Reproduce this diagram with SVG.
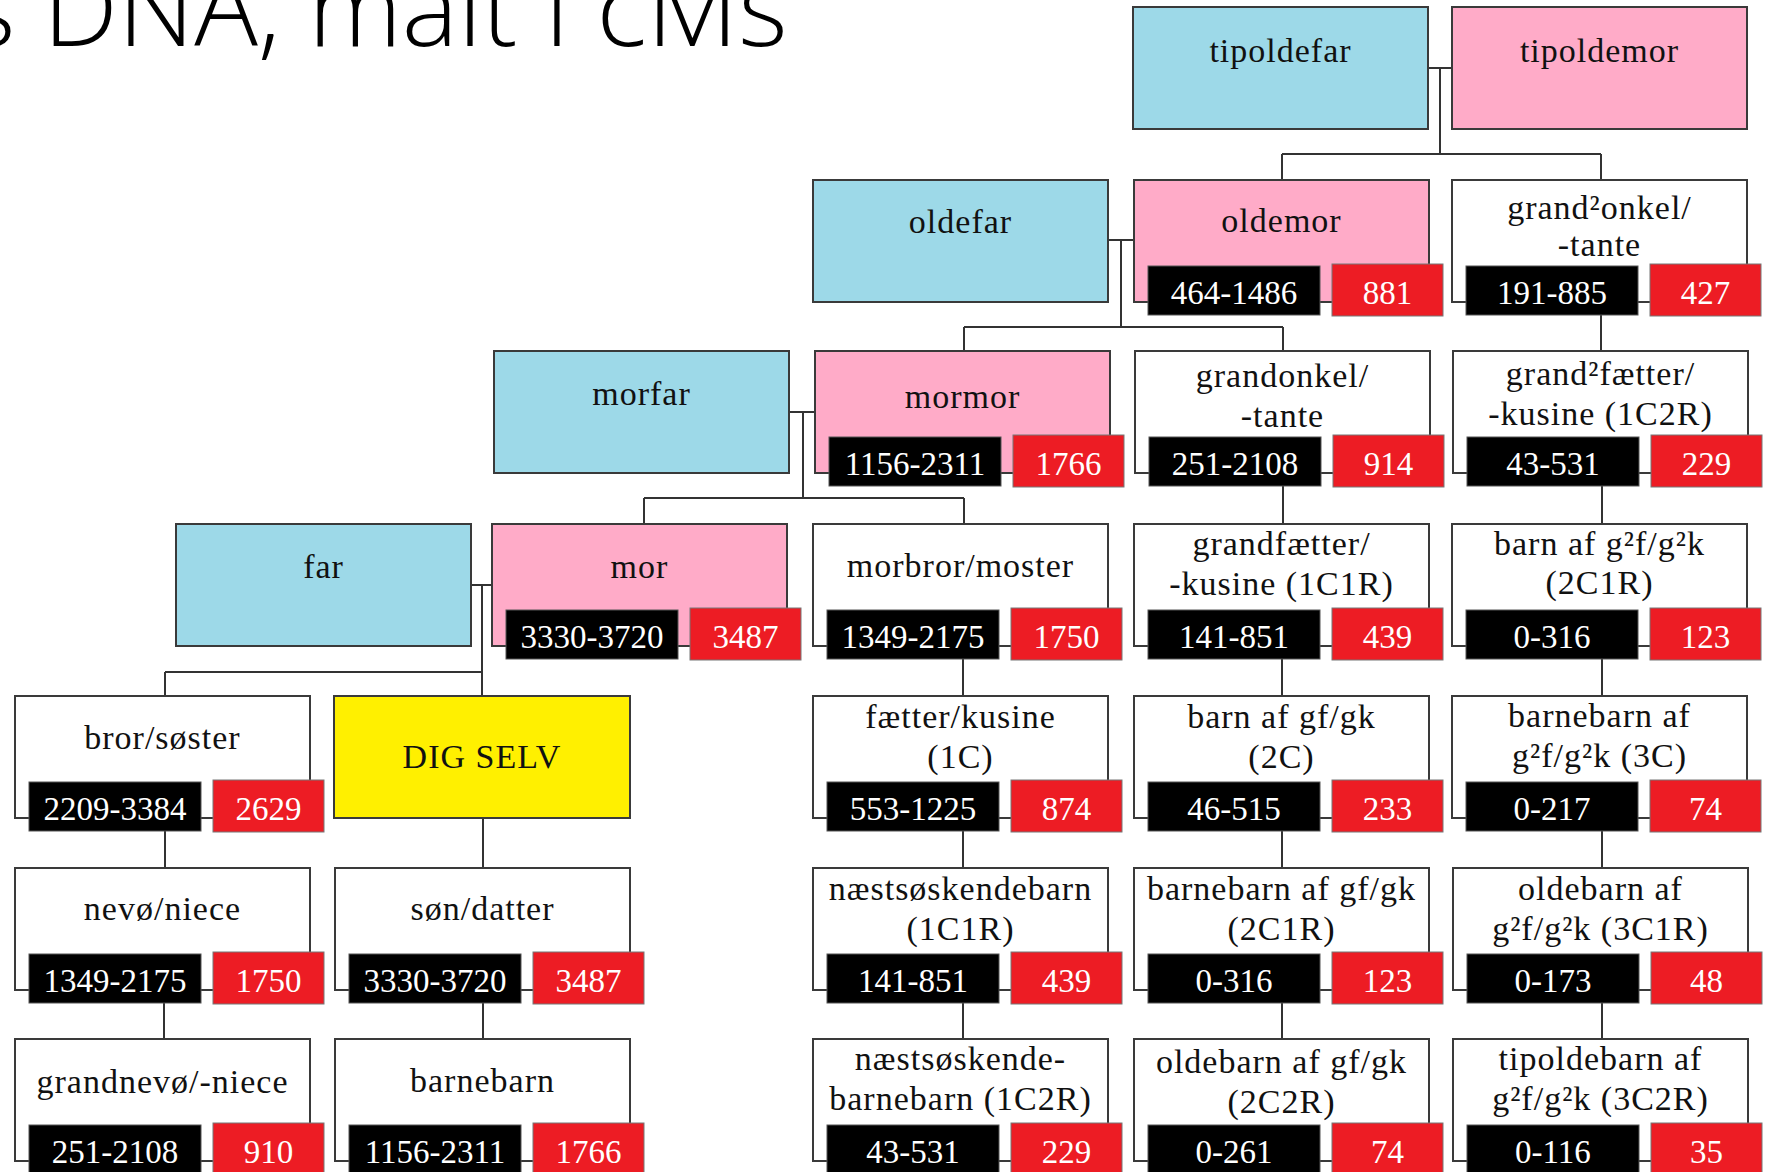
<svg xmlns="http://www.w3.org/2000/svg" width="1765" height="1172" viewBox="0 0 1765 1172">
<style>
.bg{fill:#fff}
.n{stroke:#3a3a3a;stroke-width:2}
.blue{fill:#9dd9e8}.pink{fill:#ffabc8}.white{fill:#fff}.yellow{fill:#fff000}
.blk{fill:#000;stroke:#555;stroke-width:1}
.red{fill:#ed1c24;stroke:#777;stroke-width:1}
.lbl{font-family:"Liberation Serif",serif;font-size:34px;letter-spacing:1px;fill:#111;text-anchor:middle}
.num{font-family:"Liberation Serif",serif;font-size:33px;fill:#fff;text-anchor:middle}
.conn{fill:none;stroke:#333;stroke-width:2}
.title{font-family:"Open Sans","Liberation Sans",sans-serif;font-size:106px;font-weight:300;fill:#000}
</style>
<rect class="bg" x="0" y="0" width="1765" height="1172"/>
<text class="title" x="-34" y="46">s DNA, målt i cMs</text>
<g id="connectors">
<path class="conn" d="M1429 68H1452M1440 68V154M1282 154H1601M1282 154V180M1601 154V180"/>
<path class="conn" d="M1108 240H1134M1121 240V327M964 327H1283M964 327V351M1283 327V351"/>
<path class="conn" d="M1601 313V351"/>
<path class="conn" d="M789 412H815M803 412V498M644 498H964M644 498V524M964 498V524"/>
<path class="conn" d="M1283 486V524M1602 486V524"/>
<path class="conn" d="M471 585H492M482 585V696M165 672H482M165 672V696"/>
<path class="conn" d="M963 659V696M1282 659V696M1602 659V696"/>
<path class="conn" d="M165 831V868M483 818V868M963 831V868M1282 831V868M1602 831V868"/>
<path class="conn" d="M164 1003V1039M483 1003V1039M963 1003V1039M1282 1003V1039M1602 1003V1039"/>
</g>

<g id="tipoldefar"><rect class="n blue" x="1133" y="7" width="295" height="122"/><text class="lbl" x="1280.5" y="62">tipoldefar</text></g>
<g id="tipoldemor"><rect class="n pink" x="1452" y="7" width="295" height="122"/><text class="lbl" x="1599.5" y="62">tipoldemor</text></g>

<g id="oldefar"><rect class="n blue" x="813" y="180" width="295" height="122"/><text class="lbl" x="960.5" y="233">oldefar</text></g>
<g id="oldemor"><rect class="n pink" x="1134" y="180" width="295" height="122"/><text class="lbl" x="1281.5" y="232">oldemor</text>
<rect class="blk" x="1148" y="266" width="172" height="49"/><text class="num" x="1234" y="304">464-1486</text>
<rect class="red" x="1332" y="264" width="111" height="52"/><text class="num" x="1387.5" y="304">881</text></g>
<g id="grand2onkel"><rect class="n white" x="1452" y="180" width="295" height="122"/><text class="lbl" x="1599.5" y="219">grand²onkel/</text><text class="lbl" x="1599.5" y="256">-tante</text>
<rect class="blk" x="1466" y="266" width="172" height="49"/><text class="num" x="1552" y="304">191-885</text>
<rect class="red" x="1650" y="264" width="111" height="52"/><text class="num" x="1705.5" y="304">427</text></g>

<g id="morfar"><rect class="n blue" x="494" y="351" width="295" height="122"/><text class="lbl" x="641.5" y="405">morfar</text></g>
<g id="mormor"><rect class="n pink" x="815" y="351" width="295" height="122"/><text class="lbl" x="962.5" y="408">mormor</text>
<rect class="blk" x="829" y="437" width="172" height="49"/><text class="num" x="915" y="475">1156-2311</text>
<rect class="red" x="1013" y="435" width="111" height="52"/><text class="num" x="1068.5" y="475">1766</text></g>
<g id="grandonkel"><rect class="n white" x="1135" y="351" width="295" height="122"/><text class="lbl" x="1282.5" y="387">grandonkel/</text><text class="lbl" x="1282.5" y="427">-tante</text>
<rect class="blk" x="1149" y="437" width="172" height="49"/><text class="num" x="1235" y="475">251-2108</text>
<rect class="red" x="1333" y="435" width="111" height="52"/><text class="num" x="1388.5" y="475">914</text></g>
<g id="grand2faetter"><rect class="n white" x="1453" y="351" width="295" height="122"/><text class="lbl" x="1600.5" y="385">grand²fætter/</text><text class="lbl" x="1600.5" y="425">-kusine (1C2R)</text>
<rect class="blk" x="1467" y="437" width="172" height="49"/><text class="num" x="1553" y="475">43-531</text>
<rect class="red" x="1651" y="435" width="111" height="52"/><text class="num" x="1706.5" y="475">229</text></g>

<g id="far"><rect class="n blue" x="176" y="524" width="295" height="122"/><text class="lbl" x="323.5" y="578">far</text></g>
<g id="mor"><rect class="n pink" x="492" y="524" width="295" height="122"/><text class="lbl" x="639.5" y="578">mor</text>
<rect class="blk" x="506" y="610" width="172" height="49"/><text class="num" x="592" y="648">3330-3720</text>
<rect class="red" x="690" y="608" width="111" height="52"/><text class="num" x="745.5" y="648">3487</text></g>
<g id="morbror"><rect class="n white" x="813" y="524" width="295" height="122"/><text class="lbl" x="960.5" y="577">morbror/moster</text>
<rect class="blk" x="827" y="610" width="172" height="49"/><text class="num" x="913" y="648">1349-2175</text>
<rect class="red" x="1011" y="608" width="111" height="52"/><text class="num" x="1066.5" y="648">1750</text></g>
<g id="grandfaetter"><rect class="n white" x="1134" y="524" width="295" height="122"/><text class="lbl" x="1281.5" y="555">grandfætter/</text><text class="lbl" x="1281.5" y="595">-kusine (1C1R)</text>
<rect class="blk" x="1148" y="610" width="172" height="49"/><text class="num" x="1234" y="648">141-851</text>
<rect class="red" x="1332" y="608" width="111" height="52"/><text class="num" x="1387.5" y="648">439</text></g>
<g id="barnafg2"><rect class="n white" x="1452" y="524" width="295" height="122"/><text class="lbl" x="1599.5" y="555">barn af g²f/g²k</text><text class="lbl" x="1599.5" y="594">(2C1R)</text>
<rect class="blk" x="1466" y="610" width="172" height="49"/><text class="num" x="1552" y="648">0-316</text>
<rect class="red" x="1650" y="608" width="111" height="52"/><text class="num" x="1705.5" y="648">123</text></g>

<g id="bror"><rect class="n white" x="15" y="696" width="295" height="122"/><text class="lbl" x="162.5" y="749">bror/søster</text>
<rect class="blk" x="29" y="782" width="172" height="49"/><text class="num" x="115" y="820">2209-3384</text>
<rect class="red" x="213" y="780" width="111" height="52"/><text class="num" x="268.5" y="820">2629</text></g>
<g id="digselv"><rect class="n yellow" x="334" y="696" width="296" height="122"/><text class="lbl" x="482" y="768">DIG SELV</text></g>
<g id="faetter"><rect class="n white" x="813" y="696" width="295" height="122"/><text class="lbl" x="960.5" y="728">fætter/kusine</text><text class="lbl" x="960.5" y="768">(1C)</text>
<rect class="blk" x="827" y="782" width="172" height="49"/><text class="num" x="913" y="820">553-1225</text>
<rect class="red" x="1011" y="780" width="111" height="52"/><text class="num" x="1066.5" y="820">874</text></g>
<g id="barnafgf"><rect class="n white" x="1134" y="696" width="295" height="122"/><text class="lbl" x="1281.5" y="728">barn af gf/gk</text><text class="lbl" x="1281.5" y="768">(2C)</text>
<rect class="blk" x="1148" y="782" width="172" height="49"/><text class="num" x="1234" y="820">46-515</text>
<rect class="red" x="1332" y="780" width="111" height="52"/><text class="num" x="1387.5" y="820">233</text></g>
<g id="barnebarnafg2"><rect class="n white" x="1452" y="696" width="295" height="122"/><text class="lbl" x="1599.5" y="727">barnebarn af</text><text class="lbl" x="1599.5" y="767">g²f/g²k (3C)</text>
<rect class="blk" x="1466" y="782" width="172" height="49"/><text class="num" x="1552" y="820">0-217</text>
<rect class="red" x="1650" y="780" width="111" height="52"/><text class="num" x="1705.5" y="820">74</text></g>

<g id="nevo"><rect class="n white" x="15" y="868" width="295" height="122"/><text class="lbl" x="162.5" y="920">nevø/niece</text>
<rect class="blk" x="29" y="954" width="172" height="49"/><text class="num" x="115" y="992">1349-2175</text>
<rect class="red" x="213" y="952" width="111" height="52"/><text class="num" x="268.5" y="992">1750</text></g>
<g id="son"><rect class="n white" x="335" y="868" width="295" height="122"/><text class="lbl" x="482.5" y="920">søn/datter</text>
<rect class="blk" x="349" y="954" width="172" height="49"/><text class="num" x="435" y="992">3330-3720</text>
<rect class="red" x="533" y="952" width="111" height="52"/><text class="num" x="588.5" y="992">3487</text></g>
<g id="naest"><rect class="n white" x="813" y="868" width="295" height="122"/><text class="lbl" x="960.5" y="900">næstsøskendebarn</text><text class="lbl" x="960.5" y="940">(1C1R)</text>
<rect class="blk" x="827" y="954" width="172" height="49"/><text class="num" x="913" y="992">141-851</text>
<rect class="red" x="1011" y="952" width="111" height="52"/><text class="num" x="1066.5" y="992">439</text></g>
<g id="barnebarnafgf"><rect class="n white" x="1134" y="868" width="295" height="122"/><text class="lbl" x="1281.5" y="900">barnebarn af gf/gk</text><text class="lbl" x="1281.5" y="940">(2C1R)</text>
<rect class="blk" x="1148" y="954" width="172" height="49"/><text class="num" x="1234" y="992">0-316</text>
<rect class="red" x="1332" y="952" width="111" height="52"/><text class="num" x="1387.5" y="992">123</text></g>
<g id="oldebarnafg2"><rect class="n white" x="1453" y="868" width="295" height="122"/><text class="lbl" x="1600.5" y="900">oldebarn af</text><text class="lbl" x="1600.5" y="940">g²f/g²k (3C1R)</text>
<rect class="blk" x="1467" y="954" width="172" height="49"/><text class="num" x="1553" y="992">0-173</text>
<rect class="red" x="1651" y="952" width="111" height="52"/><text class="num" x="1706.5" y="992">48</text></g>

<g id="grandnevo"><rect class="n white" x="15" y="1039" width="295" height="122"/><text class="lbl" x="162.5" y="1093">grandnevø/-niece</text>
<rect class="blk" x="29" y="1125" width="172" height="49"/><text class="num" x="115" y="1163">251-2108</text>
<rect class="red" x="213" y="1123" width="111" height="52"/><text class="num" x="268.5" y="1163">910</text></g>
<g id="barnebarn"><rect class="n white" x="335" y="1039" width="295" height="122"/><text class="lbl" x="482.5" y="1092">barnebarn</text>
<rect class="blk" x="349" y="1125" width="172" height="49"/><text class="num" x="435" y="1163">1156-2311</text>
<rect class="red" x="533" y="1123" width="111" height="52"/><text class="num" x="588.5" y="1163">1766</text></g>
<g id="naest2"><rect class="n white" x="813" y="1039" width="295" height="122"/><text class="lbl" x="960.5" y="1070">næstsøskende-</text><text class="lbl" x="960.5" y="1110">barnebarn (1C2R)</text>
<rect class="blk" x="827" y="1125" width="172" height="49"/><text class="num" x="913" y="1163">43-531</text>
<rect class="red" x="1011" y="1123" width="111" height="52"/><text class="num" x="1066.5" y="1163">229</text></g>
<g id="oldebarnafgf"><rect class="n white" x="1134" y="1039" width="295" height="122"/><text class="lbl" x="1281.5" y="1073">oldebarn af gf/gk</text><text class="lbl" x="1281.5" y="1113">(2C2R)</text>
<rect class="blk" x="1148" y="1125" width="172" height="49"/><text class="num" x="1234" y="1163">0-261</text>
<rect class="red" x="1332" y="1123" width="111" height="52"/><text class="num" x="1387.5" y="1163">74</text></g>
<g id="tipoldebarn"><rect class="n white" x="1453" y="1039" width="295" height="122"/><text class="lbl" x="1600.5" y="1070">tipoldebarn af</text><text class="lbl" x="1600.5" y="1110">g²f/g²k (3C2R)</text>
<rect class="blk" x="1467" y="1125" width="172" height="49"/><text class="num" x="1553" y="1163">0-116</text>
<rect class="red" x="1651" y="1123" width="111" height="52"/><text class="num" x="1706.5" y="1163">35</text></g>
</svg>
